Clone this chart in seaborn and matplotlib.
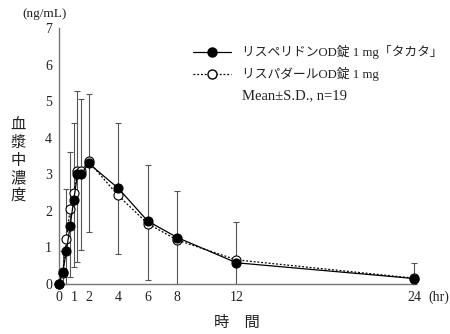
import numpy as np
import pandas as pd
import matplotlib
matplotlib.use("Agg")
import matplotlib.pyplot as plt
from matplotlib.lines import Line2D
import seaborn as sns

# ---- data ----
time_hr = [0, 0.25, 0.5, 0.75, 1, 1.25, 1.5, 2, 4, 6, 8, 12, 24]
test_mean = [0, 0.32, 0.90, 1.58, 2.31, 3.00, 3.00, 3.30, 2.62, 1.72, 1.27, 0.58, 0.15]
ref_mean = [0, 0.30, 1.22, 2.05, 2.50, 3.10, 3.10, 3.35, 2.42, 1.65, 1.20, 0.66, 0.16]
bar_low = [0, 0.0, 0.0, 0.20, 0.47, 0.60, 0.93, 1.42, 0.82, 0.10, 0.0, 0.0, 0.0]
bar_high = [0, 0.90, 2.60, 3.60, 4.40, 5.28, 5.07, 5.20, 4.40, 3.25, 2.55, 1.69, 0.58]
x_ticks = [0, 1, 2, 4, 6, 8, 12, 24]
y_ticks = [0, 1, 2, 3, 4, 5, 6, 7]
label_test = "リスペリドンOD錠 1 mg「タカタ」"
label_ref = "リスパダールOD錠 1 mg"
label_note = "Mean±S.D., n=19"

sns.set_theme(style="white")
plt.rcParams["font.family"] = ["Liberation Serif", "Noto Sans CJK JP", "DejaVu Sans"]

fig = plt.figure(figsize=(4.5, 3.34), dpi=100)
ax = fig.add_axes([59/450, 1-284/334, (414-59)/450, (284-28)/334])

df_test = pd.DataFrame({"t": time_hr, "c": test_mean})
df_ref = pd.DataFrame({"t": time_hr, "c": ref_mean})

mean_arr = np.array(test_mean)
yerr = [mean_arr - np.array(bar_low), np.array(bar_high) - mean_arr]
ax.errorbar(time_hr, test_mean, yerr=yerr, fmt="none", ecolor="#555555",
            elinewidth=0.8, capsize=2.5, capthick=0.8, clip_on=False, zorder=1)

sns.lineplot(data=df_ref, x="t", y="c", ax=ax, color="black", linestyle=(0, (1.5, 1.5)),
             linewidth=0.9, marker="o", markersize=6.5, markerfacecolor="white",
             markeredgecolor="black", markeredgewidth=0.8, zorder=3, clip_on=False)
sns.lineplot(data=df_test, x="t", y="c", ax=ax, color="black", linestyle="-",
             linewidth=0.9, marker="o", markersize=6.5, markerfacecolor="black",
             markeredgecolor="black", markeredgewidth=0.8, zorder=4, clip_on=False)

ax.set_xlim(0, 24)
ax.set_ylim(0, 7)
ax.set_xticks(x_ticks)
ax.set_yticks(y_ticks)
ax.set_xlabel("")
ax.set_ylabel("")
for s in ["top", "right"]:
    ax.spines[s].set_visible(False)
for s in ["left", "bottom"]:
    ax.spines[s].set_color("#777777")
    ax.spines[s].set_linewidth(1.0)
ax.tick_params(axis="both", direction="in", length=4, width=0.8, color="#777777",
               labelsize=10, labelcolor="#222222", pad=5)

fig.text(428/450, 1-297/334, "(hr)", fontsize=10, ha="left", va="center", color="#222222")
fig.text(45/450, 1-14/334, "(ng/mL)", fontsize=9.5, ha="center", va="center", color="#222222")
fig.text(18/450, 1-160/334, "\n".join("血漿中濃度"), fontsize=11, ha="center", va="center",
         linespacing=1.05, color="#222222", family=["Noto Sans CJK JP"])
fig.text(237/450, 1-322/334, "時　間", fontsize=11, ha="center", va="center",
         color="#222222", family=["Noto Sans CJK JP"])

handles = [
    Line2D([], [], color="black", linestyle="-", linewidth=0.9, marker="o", markersize=6.5,
           markerfacecolor="black", markeredgecolor="black"),
    Line2D([], [], color="black", linestyle=(0, (1.5, 1.5)), linewidth=0.9, marker="o",
           markersize=6.5, markerfacecolor="white", markeredgecolor="black"),
    Line2D([], [], linestyle="none", marker=None),
]
leg = fig.legend(handles, [label_test, label_ref, label_note], loc="upper left",
                 bbox_to_anchor=(193/450, 1-45/334), frameon=False, fontsize=9.2,
                 handlelength=3.0, handletextpad=0.8, labelspacing=0.65,
                 borderpad=0, borderaxespad=0)
texts = leg.get_texts()
for t in texts:
    t.set_color("#222222")
texts[2].set_fontsize(10.5)

fig.savefig("out.png", dpi=100)
